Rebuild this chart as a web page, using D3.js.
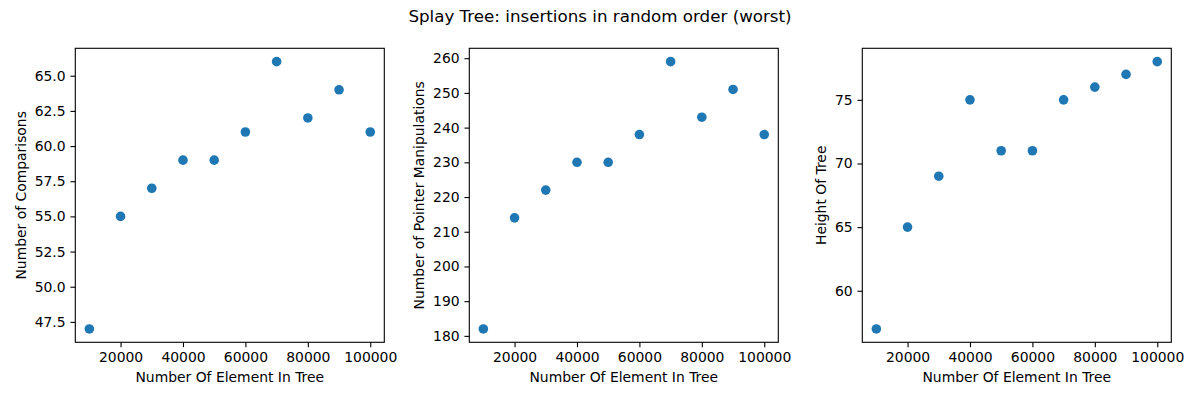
<!DOCTYPE html>
<html>
<head>
<meta charset="utf-8">
<script src="https://cdn.jsdelivr.net/npm/d3@7"></script>
<style>
  body { margin: 0; background: white; }
  text { font-family: "DejaVu Sans", sans-serif; fill: #000; }
</style>
</head>
<body>
<svg id="chart" width="1200" height="400"></svg>
<script>
// Data
const elements = [10000, 20000, 30000, 40000, 50000, 60000, 70000, 80000, 90000, 100000]
const comparisons = [47, 55, 57, 59, 59, 61, 66, 62, 64, 61]
const pointerOps = [182, 214, 222, 230, 230, 238, 259, 243, 251, 238]
const treeHeight = [57, 65, 69, 75, 71, 71, 75, 76, 77, 78]

const xTicks = [20000, 40000, 60000, 80000, 100000]
const yTicks1 = [47.5, 50, 52.5, 55, 57.5, 60, 62.5, 65]
const yTicks2 = [180, 190, 200, 210, 220, 230, 240, 250, 260]
const yTicks3 = [60, 65, 70, 75]

const title = "Splay Tree: insertions in random order (worst)"

const panels = [
    {left: 75.3, values: comparisons, ticks: yTicks1, fmt: d3.format(".1f"), label: "Number of Comparisons", labelX: 25.5},
    {left: 469.3, values: pointerOps, ticks: yTicks2, fmt: d3.format("d"), label: "Number of Pointer Manipulations", labelX: 423.5},
    {left: 862.3, values: treeHeight, ticks: yTicks3, fmt: d3.format("d"), label: "Height Of Tree", labelX: 825.7}
]

// Params
const params = {
    width: 309,
    top: 48.3,
    bottom: 342.3,
    radius: 4.8,
    tick: 4.86,
    fontSize: 13.9,
    color: "#1f77b4"
}

const svg = d3.select("#chart")

svg.append("text")
    .attr("x", 600)
    .attr("y", 22)
    .attr("text-anchor", "middle")
    .style("font-size", "16.7px")
    .text(title)

// matplotlib style 5% margins
function padded(ext){
    const m = (ext[1] - ext[0])*0.05
    return [ext[0] - m, ext[1] + m]
}

panels.forEach(function(p){
    const x = d3.scaleLinear().domain(padded(d3.extent(elements))).range([p.left, p.left + params.width])
    const y = d3.scaleLinear().domain(padded(d3.extent(p.values))).range([params.bottom, params.top])

    const g = svg.append("g")

    g.append("g")
        .attr("transform", "translate(0," + params.bottom + ")")
        .call(d3.axisBottom(x).tickValues(xTicks).tickFormat(d3.format("d")).tickSizeInner(params.tick).tickSizeOuter(0).tickPadding(4.86))
        .call(styleAxis)

    g.append("g")
        .attr("transform", "translate(" + p.left + ",0)")
        .call(d3.axisLeft(y).tickValues(p.ticks).tickFormat(p.fmt).tickSizeInner(params.tick).tickSizeOuter(0).tickPadding(4.86))
        .call(styleAxis)

    g.append("rect")
        .attr("x", p.left)
        .attr("y", params.top)
        .attr("width", params.width)
        .attr("height", params.bottom - params.top)
        .attr("fill", "none")
        .attr("stroke", "black")
        .attr("stroke-width", 1.1)

    g.selectAll("circle")
        .data(elements)
        .join("circle")
        .attr("cx", d => x(d))
        .attr("cy", (d, i) => y(p.values[i]))
        .attr("r", params.radius)
        .attr("fill", params.color)

    g.append("text")
        .attr("x", p.left + params.width/2)
        .attr("y", 382)
        .attr("text-anchor", "middle")
        .style("font-size", params.fontSize + "px")
        .text("Number Of Element In Tree")

    g.append("text")
        .attr("transform", "translate(" + p.labelX + "," + (params.top + params.bottom)/2 + ") rotate(-90)")
        .attr("text-anchor", "middle")
        .style("font-size", params.fontSize + "px")
        .text(p.label)
})

function styleAxis(sel){
    sel.select(".domain").remove()
    sel.selectAll(".tick line").attr("stroke", "black").attr("stroke-width", 1.1)
    sel.selectAll(".tick text")
        .style("font-size", params.fontSize + "px")
        .style("font-family", "DejaVu Sans, sans-serif")
        .attr("fill", "black")
}
</script>
</body>
</html>
